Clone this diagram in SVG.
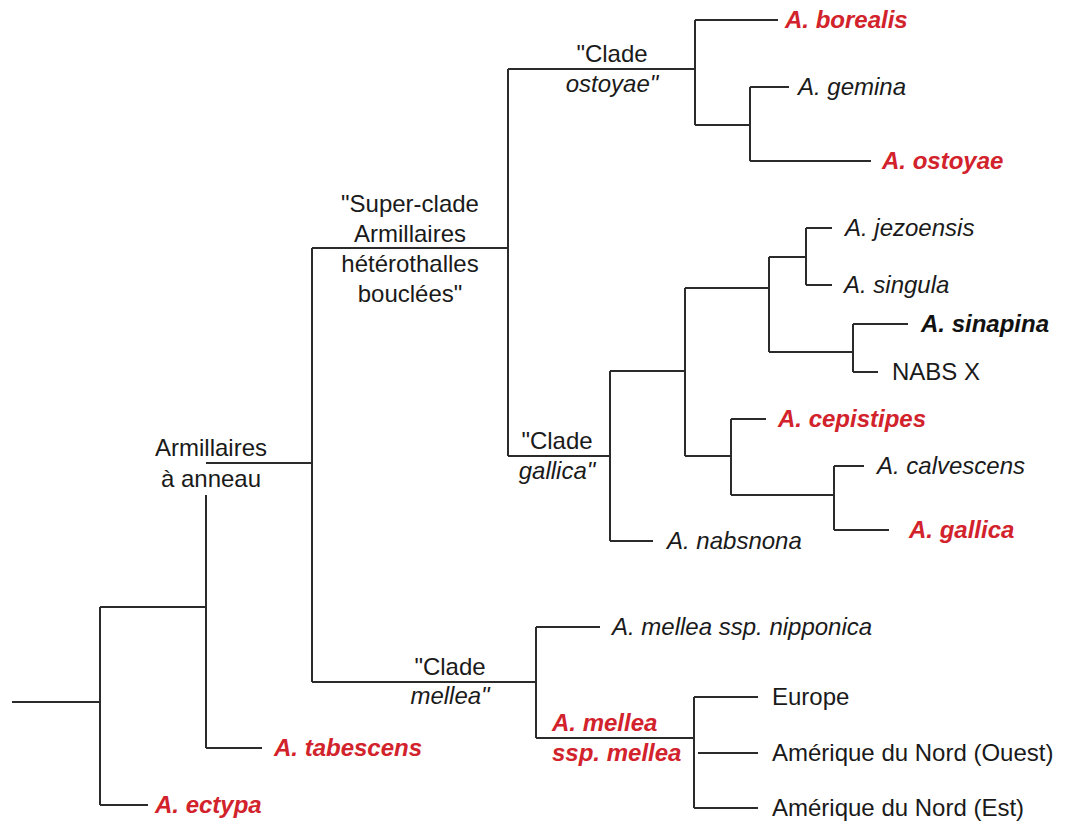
<svg xmlns="http://www.w3.org/2000/svg" width="1070" height="825" viewBox="0 0 1070 825">
<style>
.ln{fill:none;stroke:#2b2b2b;stroke-width:2}
text{font-family:"Liberation Sans",Arial,sans-serif;font-size:24px;fill:#1a1a1a}
.it{font-style:italic}
.red{font-style:italic;font-weight:bold;fill:#d2222b}
.bi{font-style:italic;font-weight:bold;fill:#111}
.c{text-anchor:middle}
</style>
<rect width="1070" height="825" fill="#fff"/>
<g id="connectors" class="ln">
<path d="M12,702H100M100,607V805M100,607H206M100,805H148"/>
<path d="M206,495V748M206,748H262M206,463H312M312,248V682M312,248H508M312,682H536"/>
<path d="M508,69V456M508,69H695M695,20V125M695,20H778M695,125H750M750,87V161M750,87H789M750,161H871"/>
<path d="M508,456H610M610,371V541M610,541H653M610,371H685M685,288V456M685,288H769M685,456H731"/>
<path d="M769,257V352M769,257H806M806,228V285M806,228H832M806,285H832M769,352H853M853,324V372M853,324H908M853,372H878"/>
<path d="M731,419V495M731,419H766M731,495H834M834,466V530M834,466H864M834,530H889"/>
<path d="M536,627V738M536,627H600M536,738H694M694,697V808M694,697H758M698,753H758M694,808H758"/>
</g>
<g id="n-ectypa"><text class="red" x="155" y="813">A. ectypa</text></g>
<g id="n-tabescens"><text class="red" x="274" y="756">A. tabescens</text></g>
<g id="n-armillaires-anneau"><text class="c" x="211" y="456">Armillaires</text><text class="c" x="211" y="487">à anneau</text></g>
<g id="n-superclade"><text class="c" x="410" y="212">"Super-clade</text><text class="c" x="410" y="242">Armillaires</text><text class="c" x="410" y="272">hétérothalles</text><text class="c" x="410" y="302">bouclées"</text></g>
<g id="n-clade-ostoyae"><text class="c" x="612" y="62">"Clade</text><text class="c it" x="612" y="92">ostoyae"</text></g>
<g id="n-borealis"><text class="red" x="785" y="28">A. borealis</text></g>
<g id="n-gemina"><text class="it" x="798" y="95">A. gemina</text></g>
<g id="n-ostoyae"><text class="red" x="882" y="169">A. ostoyae</text></g>
<g id="n-clade-gallica"><text class="c" x="557" y="449">"Clade</text><text class="c it" x="557" y="479">gallica"</text></g>
<g id="n-jezoensis"><text class="it" x="845" y="236">A. jezoensis</text></g>
<g id="n-singula"><text class="it" x="844" y="293">A. singula</text></g>
<g id="n-sinapina"><text class="bi" x="921" y="332">A. sinapina</text></g>
<g id="n-nabsx"><text x="892" y="380">NABS X</text></g>
<g id="n-cepistipes"><text class="red" x="778" y="427">A. cepistipes</text></g>
<g id="n-calvescens"><text class="it" x="877" y="474">A. calvescens</text></g>
<g id="n-gallica"><text class="red" x="909" y="538">A. gallica</text></g>
<g id="n-nabsnona"><text class="it" x="667" y="549">A. nabsnona</text></g>
<g id="n-clade-mellea"><text class="c" x="450" y="675">"Clade</text><text class="c it" x="450" y="704">mellea"</text></g>
<g id="n-nipponica"><text class="it" x="612" y="635">A. mellea ssp. nipponica</text></g>
<g id="n-ssp-mellea"><text class="red" x="552" y="731">A. mellea</text><text class="red" x="552" y="761">ssp. mellea</text></g>
<g id="n-europe"><text x="772" y="705">Europe</text></g>
<g id="n-ouest"><text x="772" y="761">Amérique du Nord (Ouest)</text></g>
<g id="n-est"><text x="772" y="816">Amérique du Nord (Est)</text></g>
</svg>
